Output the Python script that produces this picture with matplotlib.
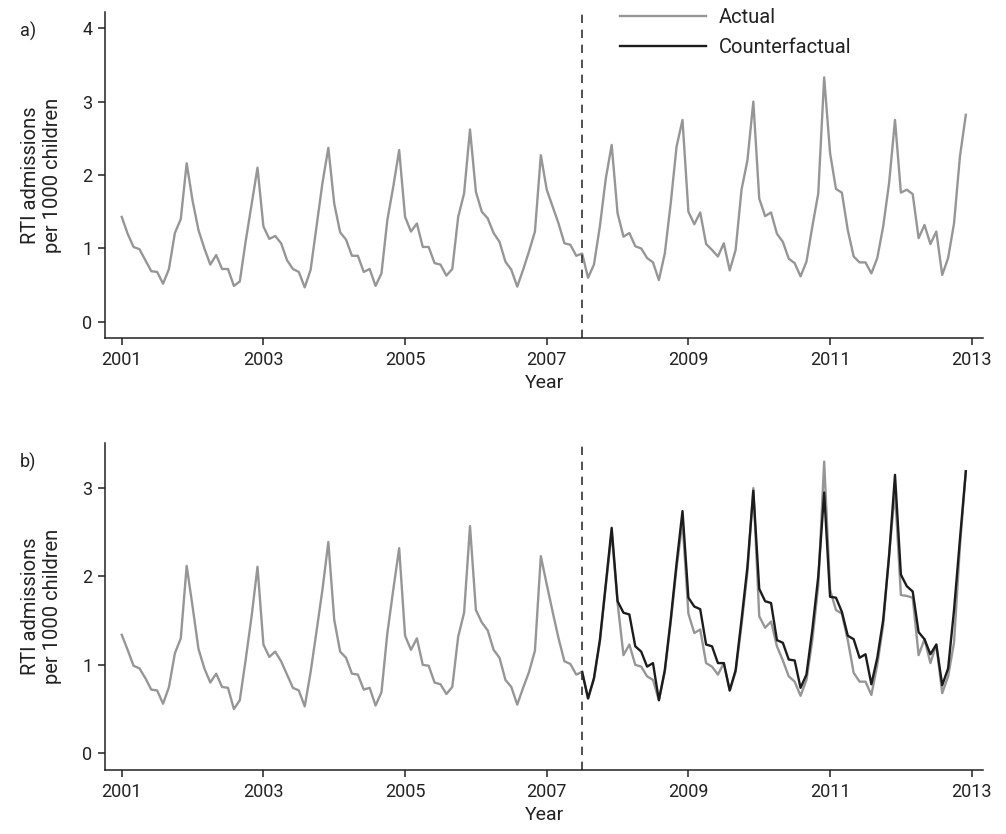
"""
RTI admissions per 1000 children, actual vs counterfactual.
"""

import numpy as np
import matplotlib

matplotlib.use("Agg")

import matplotlib.pyplot as plt
from matplotlib.lines import Line2D


plt.rcParams["font.family"] = ["Roboto", "DejaVu Sans"]

# monthly series, Jan 2001 .. Dec 2012
start_year = 2001
n_months = 144

actual_a = [
    1.43, 1.20, 1.02, 0.99, 0.84, 0.69, 0.68, 0.52, 0.72, 1.21, 1.40, 2.16,
    1.65, 1.25, 1.00, 0.78, 0.91, 0.72, 0.72, 0.49, 0.55, 1.10, 1.60, 2.10,
    1.30, 1.13, 1.17, 1.07, 0.84, 0.72, 0.68, 0.47, 0.71, 1.30, 1.89, 2.37,
    1.61, 1.22, 1.12, 0.90, 0.90, 0.68, 0.72, 0.49, 0.66, 1.39, 1.84, 2.34,
    1.43, 1.23, 1.34, 1.02, 1.02, 0.80, 0.78, 0.63, 0.72, 1.43, 1.75, 2.62,
    1.77, 1.50, 1.41, 1.21, 1.09, 0.82, 0.71, 0.48, 0.71, 0.96, 1.23, 2.27,
    1.80, 1.57, 1.34, 1.07, 1.05, 0.90, 0.93, 0.60, 0.78, 1.30, 1.95, 2.41,
    1.48, 1.16, 1.21, 1.03, 1.00, 0.87, 0.81, 0.57, 0.93, 1.61, 2.39, 2.75,
    1.50, 1.33, 1.49, 1.06, 0.98, 0.89, 1.07, 0.70, 0.98, 1.80, 2.20, 3.00,
    1.68, 1.44, 1.49, 1.20, 1.09, 0.86, 0.80, 0.62, 0.82, 1.30, 1.75, 3.33,
    2.30, 1.81, 1.76, 1.25, 0.89, 0.81, 0.81, 0.66, 0.87, 1.30, 1.89, 2.75,
    1.76, 1.80, 1.74, 1.14, 1.32, 1.06, 1.23, 0.64, 0.87, 1.34, 2.25, 2.82,
]

actual_b = [
    1.34, 1.17, 0.99, 0.96, 0.85, 0.72, 0.71, 0.56, 0.75, 1.13, 1.30, 2.12,
    1.66, 1.18, 0.96, 0.80, 0.90, 0.75, 0.74, 0.50, 0.60, 1.06, 1.55, 2.11,
    1.23, 1.09, 1.15, 1.04, 0.89, 0.74, 0.71, 0.53, 0.92, 1.38, 1.85, 2.39,
    1.51, 1.15, 1.08, 0.90, 0.89, 0.72, 0.74, 0.54, 0.69, 1.36, 1.85, 2.32,
    1.33, 1.17, 1.30, 1.00, 0.99, 0.80, 0.78, 0.67, 0.75, 1.32, 1.59, 2.57,
    1.62, 1.48, 1.39, 1.17, 1.08, 0.83, 0.75, 0.55, 0.74, 0.92, 1.16, 2.23,
    1.91, 1.60, 1.30, 1.04, 1.01, 0.89, 0.92, 0.62, 0.84, 1.26, 1.89, 2.50,
    1.70, 1.11, 1.23, 1.00, 0.98, 0.87, 0.83, 0.60, 0.92, 1.48, 2.10, 2.62,
    1.58, 1.36, 1.40, 1.02, 0.98, 0.89, 1.02, 0.71, 0.92, 1.45, 2.05, 3.00,
    1.55, 1.42, 1.49, 1.21, 1.05, 0.87, 0.81, 0.65, 0.83, 1.28, 1.90, 3.30,
    1.85, 1.62, 1.58, 1.28, 0.91, 0.81, 0.81, 0.66, 1.00, 1.45, 2.25, 2.96,
    1.79, 1.78, 1.76, 1.11, 1.29, 1.02, 1.23, 0.68, 0.87, 1.25, 2.34, 3.19,
]

# counterfactual starts at the intervention month (Jul 2007)
cf_start = 78

counterfactual = [
    0.92, 0.62, 0.85, 1.28, 1.91, 2.55,
    1.72, 1.59, 1.57, 1.21, 1.15, 0.98, 1.02, 0.60, 0.94, 1.51, 2.15, 2.74,
    1.76, 1.66, 1.63, 1.23, 1.21, 1.02, 1.02, 0.71, 0.94, 1.51, 2.11, 2.97,
    1.86, 1.72, 1.70, 1.28, 1.25, 1.06, 1.05, 0.74, 0.89, 1.40, 2.00, 2.95,
    1.77, 1.76, 1.60, 1.33, 1.29, 1.08, 1.12, 0.78, 1.08, 1.51, 2.23, 3.15,
    2.02, 1.89, 1.83, 1.37, 1.29, 1.12, 1.23, 0.77, 0.96, 1.62, 2.42, 3.19,
]

intervention = 2007.5
year_ticks = [2001, 2003, 2005, 2007, 2009, 2011, 2013]

gray = "#969696"
black = "#1c1c1c"
ink = "#222222"

t = start_year + np.arange(n_months) / 12.0
t_cf = t[cf_start:]

fig = plt.figure(figsize=(10.06, 8.34), dpi=100)

ax_a = fig.add_axes([0.1044, 0.5947, 0.8728, 0.3909])
ax_b = fig.add_axes([0.1044, 0.0767, 0.8728, 0.3921])

ax_a.plot(t, actual_a, color=gray, lw=1.7)

ax_b.plot(t, actual_b, color=gray, lw=1.7)
ax_b.plot(t_cf, counterfactual, color=black, lw=1.7)

for ax, ylim, yticks in [
    (ax_a, (-0.22, 4.22), [0, 1, 2, 3, 4]),
    (ax_b, (-0.19, 3.51), [0, 1, 2, 3]),
]:

    ax.axvline(intervention, color="#333333", lw=1.2, ls=(0, (5, 4)))

    ax.set_xlim(2000.764, 2013.16)
    ax.set_ylim(*ylim)

    ax.set_xticks(year_ticks)
    ax.set_yticks(yticks)

    ax.spines["top"].set_visible(False)
    ax.spines["right"].set_visible(False)

    for side in ["left", "bottom"]:
        ax.spines[side].set_linewidth(1.1)
        ax.spines[side].set_color(ink)

    ax.tick_params(
        direction="out",
        length=5,
        width=1.1,
        pad=4,
        color=ink,
        labelsize=13,
        labelcolor=ink,
    )

    ax.set_xlabel("Year", fontsize=14, color=ink, labelpad=4)
    ax.set_ylabel(
        "RTI admissions\nper 1000 children",
        fontsize=14.5,
        color=ink,
        labelpad=15,
        linespacing=1.15,
    )

fig.text(0.02, 0.962, "a)", fontsize=13, color=ink, va="center")
fig.text(0.02, 0.446, "b)", fontsize=13, color=ink, va="center")

handles = [
    Line2D([], [], color=gray, lw=1.7),
    Line2D([], [], color=black, lw=1.7),
]

ax_a.legend(
    handles,
    ["Actual", "Counterfactual"],
    loc="upper left",
    bbox_to_anchor=(0.5866, 1.013),
    frameon=False,
    borderpad=0,
    borderaxespad=0,
    fontsize=14.5,
    handlelength=4.25,
    handletextpad=0.65,
    labelspacing=0.55,
    labelcolor=ink,
)

fig.savefig("out.png", dpi=100)
plt.close(fig)
